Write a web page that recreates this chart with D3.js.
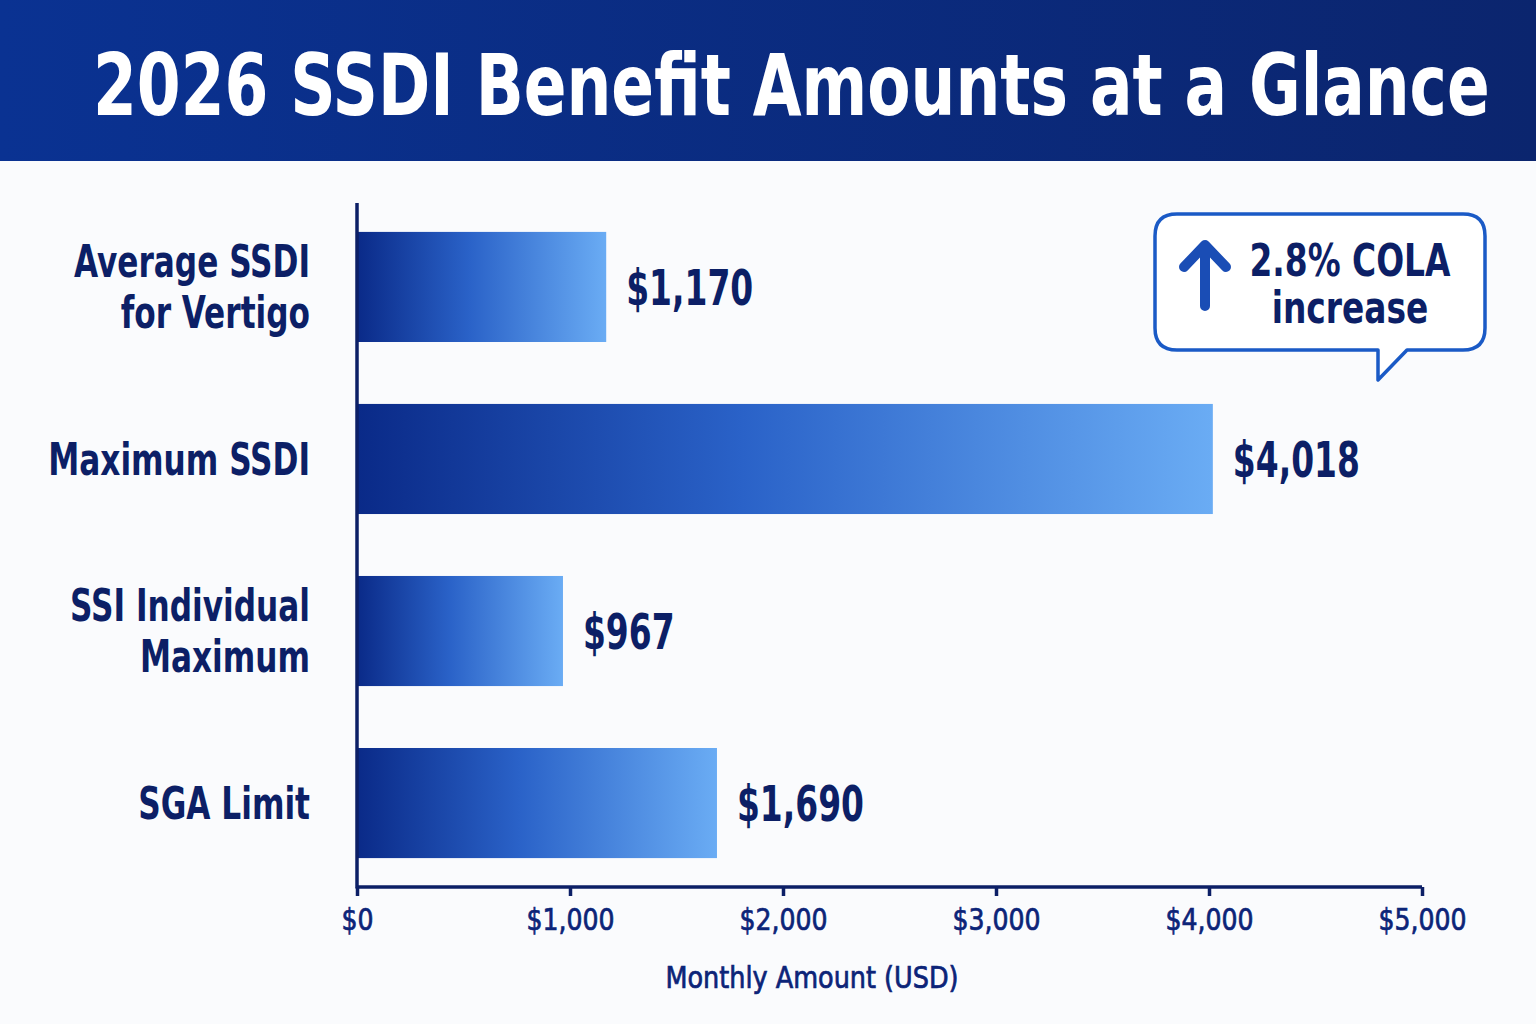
<!DOCTYPE html>
<html><head><meta charset="utf-8">
<script src="https://cdn.jsdelivr.net/npm/d3@7"></script>
<style>
html,body{margin:0;padding:0;background:#fafbfd;}
svg{display:block;}
</style></head>
<body>
<script>
const title = "2026 SSDI Benefit Amounts at a Glance";
const categories = [["Average SSDI","for Vertigo"],["Maximum SSDI"],["SSI Individual","Maximum"],["SGA Limit"]];
const values = [1170, 4018, 967, 1690];
const valueLabels = ["$1,170","$4,018","$967","$1,690"];
const tickValues = [0,1000,2000,3000,4000,5000];
const xAxisTitle = "Monthly Amount (USD)";
const calloutLines = ["2.8% COLA","increase"];

const W = 1536, H = 1024;
const navy = "#0c1f66";
const font = "'DejaVu Sans Condensed','DejaVu Sans',sans-serif";
const svg = d3.select("body").append("svg").attr("width",W).attr("height",H);
const defs = svg.append("defs");

function measure(str, size, weight){
  const t = svg.append("text").attr("font-family",font).attr("font-size",size).attr("font-weight",weight).text(str);
  const w = t.node().getComputedTextLength(); t.remove(); return w;
}
function squeeze(sel, k){
  sel.each(function(){
    const w = this.getComputedTextLength();
    d3.select(this).attr("textLength", w*k).attr("lengthAdjust","spacingAndGlyphs");
  });
}

const hg = defs.append("linearGradient").attr("id","hdr").attr("x1","0").attr("x2","1").attr("y1","0").attr("y2","0");
hg.append("stop").attr("offset","0%").attr("stop-color","#0a3292");
hg.append("stop").attr("offset","100%").attr("stop-color","#0b256e");
const bg = defs.append("linearGradient").attr("id","bar").attr("x1","0").attr("x2","1").attr("y1","0").attr("y2","0");
bg.append("stop").attr("offset","0%").attr("stop-color","#0a2a88");
bg.append("stop").attr("offset","45%").attr("stop-color","#2a62c8");
bg.append("stop").attr("offset","100%").attr("stop-color","#6aacf4");

svg.append("rect").attr("width",W).attr("height",H).attr("fill","#fafbfd");
svg.append("rect").attr("width",W).attr("height",161).attr("fill","url(#hdr)");
const tW = measure(title,86,"bold");
svg.append("g").attr("transform",`translate(93,115) scale(${1397/tW},1)`)
  .append("text").attr("x",0).attr("y",0)
  .attr("font-family",font).attr("font-weight","bold").attr("font-size",86).attr("fill","#ffffff")
  .text(title);

const x = d3.scaleLinear().domain([0,5000]).range([357,1422]);
const y = d3.scaleBand().domain(d3.range(categories.length)).range([203,887]).paddingInner(0.36).paddingOuter(0.168);

// bars
svg.selectAll("rect.bar").data(values).join("rect").attr("class","bar")
  .attr("x",x(0)).attr("y",(d,i)=>y(i)).attr("width",d=>x(d)-x(0)).attr("height",y.bandwidth())
  .attr("fill","url(#bar)");

// value labels
const kVal = 127/measure("$4,018",50,"bold");
svg.selectAll("text.val").data(values).join("text").attr("class","val")
  .attr("x",d=>x(d)+20).attr("y",(d,i)=>y(i)+y.bandwidth()/2).attr("dy","0.36em")
  .attr("font-family",font).attr("font-weight","bold").attr("font-size",50).attr("fill",navy)
  .text((d,i)=>valueLabels[i]).call(squeeze,kVal);

// category labels
const lines = [];
categories.forEach((ls,i)=>ls.forEach((ln,k)=>lines.push({i,k,n:ls.length,ln})));
const kCat = 236/measure("Average SSDI",44,"bold");
svg.selectAll("text.cat").data(lines).join("text").attr("class","cat")
  .attr("x",310).attr("y",d=>y(d.i)+y.bandwidth()/2+(d.k-(d.n-1)/2)*51).attr("dy","0.36em")
  .attr("text-anchor","end").attr("font-family",font).attr("font-weight","bold")
  .attr("font-size",44).attr("fill",navy).text(d=>d.ln).call(squeeze,kCat);

// axes
const xAxis = d3.axisBottom(x).tickValues(tickValues).tickSize(9).tickPadding(12)
  .tickFormat(d=>"$"+d3.format(",")(d));
const gx = svg.append("g").attr("transform","translate(0,887)").call(xAxis);
gx.select(".domain").attr("d","M357,0H1422").attr("stroke",navy).attr("stroke-width",3.5);
gx.selectAll(".tick line").attr("stroke",navy).attr("stroke-width",3.5);
gx.selectAll(".tick text").attr("font-family",font).attr("font-size",31).attr("fill","#0c2478")
  .attr("stroke","#0c2478").attr("stroke-width",0.7);
const kTick = 88/measure("$4,000",31,"normal");
gx.selectAll(".tick text").call(squeeze,kTick);
svg.append("line").attr("x1",357).attr("x2",357).attr("y1",203).attr("y2",888.5).attr("stroke",navy).attr("stroke-width",3.5);

svg.append("text").attr("x",812).attr("y",988).attr("text-anchor","middle")
  .attr("font-family",font).attr("font-size",31).attr("fill","#0c2478")
  .attr("stroke","#0c2478").attr("stroke-width",0.7).text(xAxisTitle)
  .attr("textLength",293).attr("lengthAdjust","spacingAndGlyphs");

// callout
const c = svg.append("g");
c.append("path").attr("d",
  "M1177,214 H1463 Q1485,214 1485,236 V328 Q1485,350 1463,350 H1407 L1378,380 V350 H1177 Q1155,350 1155,328 V236 Q1155,214 1177,214 Z")
  .attr("fill","#ffffff").attr("stroke","#1a5ac6").attr("stroke-width",3.5).attr("stroke-linejoin","round");
c.append("path").attr("d","M1205,306 V245 M1184,267 L1205,245 L1226,267")
  .attr("fill","none").attr("stroke","#1a4db5").attr("stroke-width",10).attr("stroke-linecap","round").attr("stroke-linejoin","round");
const kCall = 201/measure("2.8% COLA",44,"bold");
c.selectAll("text").data(calloutLines).join("text")
  .attr("x",1350).attr("y",(d,i)=>260+i*47).attr("dy","0.36em").attr("text-anchor","middle")
  .attr("font-family",font).attr("font-weight","bold").attr("font-size",44).attr("fill",navy).text(d=>d)
  .call(squeeze,kCall);
</script>
</body></html>
